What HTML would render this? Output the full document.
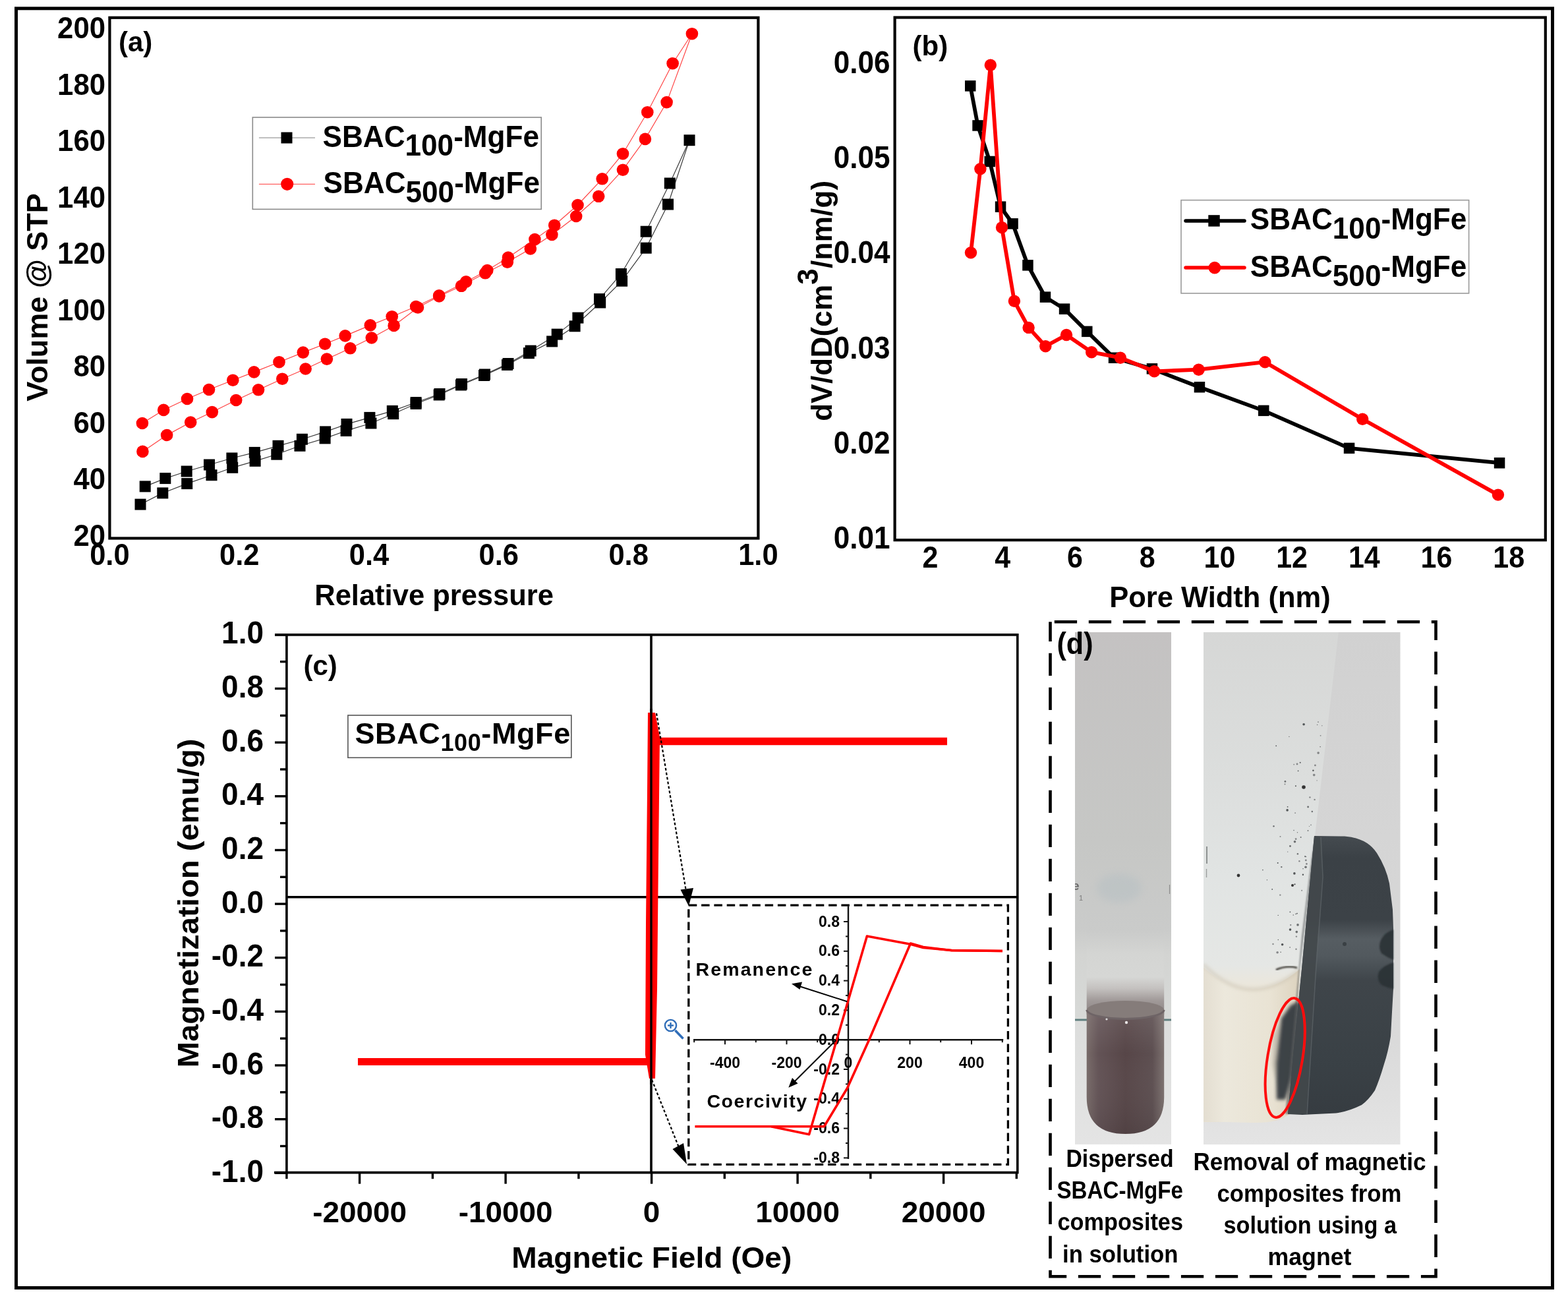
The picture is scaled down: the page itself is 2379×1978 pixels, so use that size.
<!DOCTYPE html>
<html><head><meta charset="utf-8"><title>Figure</title><style>
html,body{margin:0;padding:0;background:#fff;overflow:hidden;width:2379px;height:1978px;}
svg{display:block;}
text{font-family:"Liberation Sans", Arial, Helvetica, sans-serif;font-weight:bold;fill:#000;}
.cap{font-family:"Liberation Sans", "DejaVu Sans", sans-serif;}
</style></head><body>
<svg width="2379" height="1978" viewBox="0 0 2379 1978">
<rect x="0" y="0" width="2379" height="1978" fill="#fff"/>
<rect x="24.5" y="12.8" width="2331" height="1940.7" fill="none" stroke="#000" stroke-width="5"/>
<g id="panel-a">
<rect x="166.4" y="26.8" width="984" height="789.7" fill="none" stroke="#000" stroke-width="4.2"/>
<text transform="translate(160,827.8) scale(0.944,1)" x="0" y="0" font-size="46.3" text-anchor="end">20</text>
<text transform="translate(160,742.3) scale(0.944,1)" x="0" y="0" font-size="46.3" text-anchor="end">40</text>
<text transform="translate(160,656.8) scale(0.944,1)" x="0" y="0" font-size="46.3" text-anchor="end">60</text>
<text transform="translate(160,571.3) scale(0.944,1)" x="0" y="0" font-size="46.3" text-anchor="end">80</text>
<text transform="translate(160,485.8) scale(0.944,1)" x="0" y="0" font-size="46.3" text-anchor="end">100</text>
<text transform="translate(160,400.3) scale(0.944,1)" x="0" y="0" font-size="46.3" text-anchor="end">120</text>
<text transform="translate(160,314.8) scale(0.944,1)" x="0" y="0" font-size="46.3" text-anchor="end">140</text>
<text transform="translate(160,229.3) scale(0.944,1)" x="0" y="0" font-size="46.3" text-anchor="end">160</text>
<text transform="translate(160,143.8) scale(0.944,1)" x="0" y="0" font-size="46.3" text-anchor="end">180</text>
<text transform="translate(160,58.3) scale(0.944,1)" x="0" y="0" font-size="46.3" text-anchor="end">200</text>
<text transform="translate(166.4,857.2) scale(0.937,1)" x="0" y="0" font-size="46.4" text-anchor="middle">0.0</text>
<text transform="translate(363.2,857.2) scale(0.937,1)" x="0" y="0" font-size="46.4" text-anchor="middle">0.2</text>
<text transform="translate(560,857.2) scale(0.937,1)" x="0" y="0" font-size="46.4" text-anchor="middle">0.4</text>
<text transform="translate(756.8,857.2) scale(0.937,1)" x="0" y="0" font-size="46.4" text-anchor="middle">0.6</text>
<text transform="translate(953.6,857.2) scale(0.937,1)" x="0" y="0" font-size="46.4" text-anchor="middle">0.8</text>
<text transform="translate(1150.4,857.2) scale(0.937,1)" x="0" y="0" font-size="46.4" text-anchor="middle">1.0</text>
<text x="658.6" y="918.2" font-size="43.5" text-anchor="middle">Relative pressure</text>
<text transform="translate(72.4,451) rotate(-90)" x="0" y="0" font-size="45" text-anchor="middle">Volume @ STP</text>
<text x="180" y="78" font-size="42">(a)</text>
<polyline points="216.4,684.9 253.1,660 289.2,640.5 321.8,625.1 358.2,607 392,591.3 428.3,574.7 463.6,559.5 495.9,544.6 531.4,528.3 563.8,512.5 597.6,493.9 634,466.5 666.2,449.5 700,433.8 736.2,414.3 769.8,397.6 804.8,377.4 837.4,356 874.2,328 908.2,297.8 945,257.7 978.9,210.9 1011.6,155.1 1049.9,51.2" fill="none" stroke="#ff4040" stroke-width="1.15"/>
<polyline points="1049.9,51.2 1020.6,96.2 982.3,170.2 945,233.2 913.7,271.3 876.5,311 841.2,341.7 811.4,363.1 771,390.5 739.3,410 707.1,427.4 666.2,448.3 631.1,465 594.7,480.2 561.8,493.4 523.7,509.4 493.1,521.7 459.8,534.6 423.5,549.2 385.4,564.4 353.3,576.7 317,591 284,605 248.2,621.9 215.9,642" fill="none" stroke="#ff4040" stroke-width="1.15"/>
<polyline points="213,765.1 246.8,747.9 283.7,733.6 321,720.7 352.7,709.3 387.1,699.3 419.8,689.2 455,676.3 493.1,664.9 525.1,653.4 562.9,642 596.7,627.7 631.1,612.5 666.2,599 699.5,584 734.5,569.5 769.5,553.5 802.4,535.7 837.6,517.9 872.1,494.8 910.7,459 943.6,426.2 980.2,376.2 1013.5,310 1046,212.7" fill="none" stroke="#3a3a3a" stroke-width="1.2"/>
<polyline points="1046,212.7 1016.3,278 980.2,351.2 942.4,415.5 909.5,453.6 876.9,482.1 845.2,507.1 805.2,532.1 771,551.5 735.5,568 700.5,582.5 667,597.5 631.1,610.5 595.3,623.4 560.9,633.4 526,643.4 493.6,654.9 458.4,666.3 422,676.3 386.3,686.4 351.9,695 317.5,705 283.2,715 250.8,725.6 220.2,737.9" fill="none" stroke="#3a3a3a" stroke-width="1.2"/>
<circle cx="216.4" cy="684.9" r="9.3" fill="#ff0000"/>
<circle cx="253.1" cy="660" r="9.3" fill="#ff0000"/>
<circle cx="289.2" cy="640.5" r="9.3" fill="#ff0000"/>
<circle cx="321.8" cy="625.1" r="9.3" fill="#ff0000"/>
<circle cx="358.2" cy="607" r="9.3" fill="#ff0000"/>
<circle cx="392" cy="591.3" r="9.3" fill="#ff0000"/>
<circle cx="428.3" cy="574.7" r="9.3" fill="#ff0000"/>
<circle cx="463.6" cy="559.5" r="9.3" fill="#ff0000"/>
<circle cx="495.9" cy="544.6" r="9.3" fill="#ff0000"/>
<circle cx="531.4" cy="528.3" r="9.3" fill="#ff0000"/>
<circle cx="563.8" cy="512.5" r="9.3" fill="#ff0000"/>
<circle cx="597.6" cy="493.9" r="9.3" fill="#ff0000"/>
<circle cx="634" cy="466.5" r="9.3" fill="#ff0000"/>
<circle cx="666.2" cy="449.5" r="9.3" fill="#ff0000"/>
<circle cx="700" cy="433.8" r="9.3" fill="#ff0000"/>
<circle cx="736.2" cy="414.3" r="9.3" fill="#ff0000"/>
<circle cx="769.8" cy="397.6" r="9.3" fill="#ff0000"/>
<circle cx="804.8" cy="377.4" r="9.3" fill="#ff0000"/>
<circle cx="837.4" cy="356" r="9.3" fill="#ff0000"/>
<circle cx="874.2" cy="328" r="9.3" fill="#ff0000"/>
<circle cx="908.2" cy="297.8" r="9.3" fill="#ff0000"/>
<circle cx="945" cy="257.7" r="9.3" fill="#ff0000"/>
<circle cx="978.9" cy="210.9" r="9.3" fill="#ff0000"/>
<circle cx="1011.6" cy="155.1" r="9.3" fill="#ff0000"/>
<circle cx="1049.9" cy="51.2" r="9.3" fill="#ff0000"/>
<circle cx="1020.6" cy="96.2" r="9.3" fill="#ff0000"/>
<circle cx="982.3" cy="170.2" r="9.3" fill="#ff0000"/>
<circle cx="945" cy="233.2" r="9.3" fill="#ff0000"/>
<circle cx="913.7" cy="271.3" r="9.3" fill="#ff0000"/>
<circle cx="876.5" cy="311" r="9.3" fill="#ff0000"/>
<circle cx="841.2" cy="341.7" r="9.3" fill="#ff0000"/>
<circle cx="811.4" cy="363.1" r="9.3" fill="#ff0000"/>
<circle cx="771" cy="390.5" r="9.3" fill="#ff0000"/>
<circle cx="739.3" cy="410" r="9.3" fill="#ff0000"/>
<circle cx="707.1" cy="427.4" r="9.3" fill="#ff0000"/>
<circle cx="666.2" cy="448.3" r="9.3" fill="#ff0000"/>
<circle cx="631.1" cy="465" r="9.3" fill="#ff0000"/>
<circle cx="594.7" cy="480.2" r="9.3" fill="#ff0000"/>
<circle cx="561.8" cy="493.4" r="9.3" fill="#ff0000"/>
<circle cx="523.7" cy="509.4" r="9.3" fill="#ff0000"/>
<circle cx="493.1" cy="521.7" r="9.3" fill="#ff0000"/>
<circle cx="459.8" cy="534.6" r="9.3" fill="#ff0000"/>
<circle cx="423.5" cy="549.2" r="9.3" fill="#ff0000"/>
<circle cx="385.4" cy="564.4" r="9.3" fill="#ff0000"/>
<circle cx="353.3" cy="576.7" r="9.3" fill="#ff0000"/>
<circle cx="317" cy="591" r="9.3" fill="#ff0000"/>
<circle cx="284" cy="605" r="9.3" fill="#ff0000"/>
<circle cx="248.2" cy="621.9" r="9.3" fill="#ff0000"/>
<circle cx="215.9" cy="642" r="9.3" fill="#ff0000"/>
<rect x="204.5" y="756.6" width="17" height="17" fill="#000"/>
<rect x="238.3" y="739.4" width="17" height="17" fill="#000"/>
<rect x="275.2" y="725.1" width="17" height="17" fill="#000"/>
<rect x="312.5" y="712.2" width="17" height="17" fill="#000"/>
<rect x="344.2" y="700.8" width="17" height="17" fill="#000"/>
<rect x="378.6" y="690.8" width="17" height="17" fill="#000"/>
<rect x="411.3" y="680.7" width="17" height="17" fill="#000"/>
<rect x="446.5" y="667.8" width="17" height="17" fill="#000"/>
<rect x="484.6" y="656.4" width="17" height="17" fill="#000"/>
<rect x="516.6" y="644.9" width="17" height="17" fill="#000"/>
<rect x="554.4" y="633.5" width="17" height="17" fill="#000"/>
<rect x="588.2" y="619.2" width="17" height="17" fill="#000"/>
<rect x="622.6" y="604" width="17" height="17" fill="#000"/>
<rect x="657.7" y="590.5" width="17" height="17" fill="#000"/>
<rect x="691" y="575.5" width="17" height="17" fill="#000"/>
<rect x="726" y="561" width="17" height="17" fill="#000"/>
<rect x="761" y="545" width="17" height="17" fill="#000"/>
<rect x="793.9" y="527.2" width="17" height="17" fill="#000"/>
<rect x="829.1" y="509.4" width="17" height="17" fill="#000"/>
<rect x="863.6" y="486.3" width="17" height="17" fill="#000"/>
<rect x="902.2" y="450.5" width="17" height="17" fill="#000"/>
<rect x="935.1" y="417.7" width="17" height="17" fill="#000"/>
<rect x="971.7" y="367.7" width="17" height="17" fill="#000"/>
<rect x="1005" y="301.5" width="17" height="17" fill="#000"/>
<rect x="1037.5" y="204.2" width="17" height="17" fill="#000"/>
<rect x="1007.8" y="269.5" width="17" height="17" fill="#000"/>
<rect x="971.7" y="342.7" width="17" height="17" fill="#000"/>
<rect x="933.9" y="407" width="17" height="17" fill="#000"/>
<rect x="901" y="445.1" width="17" height="17" fill="#000"/>
<rect x="868.4" y="473.6" width="17" height="17" fill="#000"/>
<rect x="836.7" y="498.6" width="17" height="17" fill="#000"/>
<rect x="796.7" y="523.6" width="17" height="17" fill="#000"/>
<rect x="762.5" y="543" width="17" height="17" fill="#000"/>
<rect x="727" y="559.5" width="17" height="17" fill="#000"/>
<rect x="692" y="574" width="17" height="17" fill="#000"/>
<rect x="658.5" y="589" width="17" height="17" fill="#000"/>
<rect x="622.6" y="602" width="17" height="17" fill="#000"/>
<rect x="586.8" y="614.9" width="17" height="17" fill="#000"/>
<rect x="552.4" y="624.9" width="17" height="17" fill="#000"/>
<rect x="517.5" y="634.9" width="17" height="17" fill="#000"/>
<rect x="485.1" y="646.4" width="17" height="17" fill="#000"/>
<rect x="449.9" y="657.8" width="17" height="17" fill="#000"/>
<rect x="413.5" y="667.8" width="17" height="17" fill="#000"/>
<rect x="377.8" y="677.9" width="17" height="17" fill="#000"/>
<rect x="343.4" y="686.5" width="17" height="17" fill="#000"/>
<rect x="309" y="696.5" width="17" height="17" fill="#000"/>
<rect x="274.7" y="706.5" width="17" height="17" fill="#000"/>
<rect x="242.3" y="717.1" width="17" height="17" fill="#000"/>
<rect x="211.7" y="729.4" width="17" height="17" fill="#000"/>
<rect x="383.3" y="178" width="437.9" height="139.4" fill="none" stroke="#8a8a8a" stroke-width="1.6"/>
<line x1="392.9" y1="209" x2="478" y2="209" stroke="#aaa" stroke-width="1.3"/>
<rect x="426.5" y="200.5" width="17" height="17" fill="#000"/>
<line x1="392.9" y1="279.3" x2="478" y2="279.3" stroke="#ff6060" stroke-width="1.3"/>
<circle cx="435.7" cy="279.3" r="9.6" fill="#ff0000"/>
<text transform="translate(489.5,222.6) scale(0.939,1)" x="0" y="0" font-size="47">SBAC<tspan dy="13.7">100</tspan><tspan dy="-13.7">-MgFe</tspan></text>
<text transform="translate(490.5,292.9) scale(0.939,1)" x="0" y="0" font-size="47">SBAC<tspan dy="14">500</tspan><tspan dy="-14">-MgFe</tspan></text>
</g>
<g id="panel-b">
<rect x="1357.6" y="26.5" width="987.2" height="792.7" fill="none" stroke="#000" stroke-width="4.2"/>
<text transform="translate(1350.5,831.7) scale(0.914,1)" x="0" y="0" font-size="48.2" text-anchor="end">0.01</text>
<text transform="translate(1350.5,687.6) scale(0.914,1)" x="0" y="0" font-size="48.2" text-anchor="end">0.02</text>
<text transform="translate(1350.5,543.5) scale(0.914,1)" x="0" y="0" font-size="48.2" text-anchor="end">0.03</text>
<text transform="translate(1350.5,399.4) scale(0.914,1)" x="0" y="0" font-size="48.2" text-anchor="end">0.04</text>
<text transform="translate(1350.5,255.3) scale(0.914,1)" x="0" y="0" font-size="48.2" text-anchor="end">0.05</text>
<text transform="translate(1350.5,111.2) scale(0.914,1)" x="0" y="0" font-size="48.2" text-anchor="end">0.06</text>
<text transform="translate(1411.5,860.8) scale(0.914,1)" x="0" y="0" font-size="47" text-anchor="middle">2</text>
<text transform="translate(1521.2,860.8) scale(0.914,1)" x="0" y="0" font-size="47" text-anchor="middle">4</text>
<text transform="translate(1631,860.8) scale(0.914,1)" x="0" y="0" font-size="47" text-anchor="middle">6</text>
<text transform="translate(1740.7,860.8) scale(0.914,1)" x="0" y="0" font-size="47" text-anchor="middle">8</text>
<text transform="translate(1850.4,860.8) scale(0.914,1)" x="0" y="0" font-size="47" text-anchor="middle">10</text>
<text transform="translate(1960.1,860.8) scale(0.914,1)" x="0" y="0" font-size="47" text-anchor="middle">12</text>
<text transform="translate(2069.8,860.8) scale(0.914,1)" x="0" y="0" font-size="47" text-anchor="middle">14</text>
<text transform="translate(2179.4,860.8) scale(0.914,1)" x="0" y="0" font-size="47" text-anchor="middle">16</text>
<text transform="translate(2289.2,860.8) scale(0.914,1)" x="0" y="0" font-size="47" text-anchor="middle">18</text>
<text x="1851" y="921.3" font-size="43.5" text-anchor="middle">Pore Width (nm)</text>
<text transform="translate(1261.7,456.3) rotate(-90)" x="0" y="0" font-size="44" text-anchor="middle" textLength="365" lengthAdjust="spacing">dV/dD(cm<tspan dy="-21">3</tspan><tspan dy="21">/nm/g)</tspan></text>
<text x="1384.5" y="84" font-size="42">(b)</text>
<polyline points="1472.2,130.3 1483.6,190.5 1501.7,244.9 1518,313.6 1536.6,339.4 1559.5,402.4 1585.9,450.6 1615,468.6 1649.3,502.9 1690,542.7 1747.9,559.4 1819.9,587.3 1917.2,622.9 2047,679.9 2275,702.2" fill="none" stroke="#000" stroke-width="5.8" stroke-linejoin="round"/>
<rect x="1464" y="122.1" width="16.5" height="16.5" fill="#000"/>
<rect x="1475.3" y="182.2" width="16.5" height="16.5" fill="#000"/>
<rect x="1493.5" y="236.7" width="16.5" height="16.5" fill="#000"/>
<rect x="1509.8" y="305.4" width="16.5" height="16.5" fill="#000"/>
<rect x="1528.3" y="331.1" width="16.5" height="16.5" fill="#000"/>
<rect x="1551.2" y="394.1" width="16.5" height="16.5" fill="#000"/>
<rect x="1577.7" y="442.4" width="16.5" height="16.5" fill="#000"/>
<rect x="1606.8" y="460.4" width="16.5" height="16.5" fill="#000"/>
<rect x="1641" y="494.6" width="16.5" height="16.5" fill="#000"/>
<rect x="1681.8" y="534.5" width="16.5" height="16.5" fill="#000"/>
<rect x="1739.7" y="551.1" width="16.5" height="16.5" fill="#000"/>
<rect x="1811.7" y="579" width="16.5" height="16.5" fill="#000"/>
<rect x="1909" y="614.6" width="16.5" height="16.5" fill="#000"/>
<rect x="2038.8" y="671.6" width="16.5" height="16.5" fill="#000"/>
<rect x="2266.8" y="694" width="16.5" height="16.5" fill="#000"/>
<polyline points="1473,383.2 1487.4,256.3 1502.8,98.8 1520,345.1 1538.9,456.8 1560.6,496.9 1586.3,525.2 1618,508 1656.2,534.2 1699.9,542.7 1751.3,563.3 1818.6,560.7 1919.3,549.2 2067.2,635.7 2272.9,750.6" fill="none" stroke="#ff0000" stroke-width="5.8" stroke-linejoin="round"/>
<circle cx="1473" cy="383.2" r="9.2" fill="#ff0000"/>
<circle cx="1487.4" cy="256.3" r="9.2" fill="#ff0000"/>
<circle cx="1502.8" cy="98.8" r="9.2" fill="#ff0000"/>
<circle cx="1520" cy="345.1" r="9.2" fill="#ff0000"/>
<circle cx="1538.9" cy="456.8" r="9.2" fill="#ff0000"/>
<circle cx="1560.6" cy="496.9" r="9.2" fill="#ff0000"/>
<circle cx="1586.3" cy="525.2" r="9.2" fill="#ff0000"/>
<circle cx="1618" cy="508" r="9.2" fill="#ff0000"/>
<circle cx="1656.2" cy="534.2" r="9.2" fill="#ff0000"/>
<circle cx="1699.9" cy="542.7" r="9.2" fill="#ff0000"/>
<circle cx="1751.3" cy="563.3" r="9.2" fill="#ff0000"/>
<circle cx="1818.6" cy="560.7" r="9.2" fill="#ff0000"/>
<circle cx="1919.3" cy="549.2" r="9.2" fill="#ff0000"/>
<circle cx="2067.2" cy="635.7" r="9.2" fill="#ff0000"/>
<circle cx="2272.9" cy="750.6" r="9.2" fill="#ff0000"/>
<rect x="1792" y="303.6" width="436.6" height="141.3" fill="none" stroke="#999" stroke-width="1.6"/>
<line x1="1799" y1="334.9" x2="1888" y2="334.9" stroke="#000" stroke-width="5.5" stroke-linecap="round"/>
<rect x="1833.3" y="326.2" width="17.4" height="17.4" fill="#000"/>
<line x1="1799" y1="406.1" x2="1888" y2="406.1" stroke="#ff0000" stroke-width="5.5" stroke-linecap="round"/>
<circle cx="1842.9" cy="406.1" r="9.4" fill="#ff0000"/>
<text transform="translate(1896.8,348) scale(0.939,1)" x="0" y="0" font-size="47">SBAC<tspan dy="14.3">100</tspan><tspan dy="-14.3">-MgFe</tspan></text>
<text transform="translate(1896.8,419.9) scale(0.939,1)" x="0" y="0" font-size="47">SBAC<tspan dy="14.5">500</tspan><tspan dy="-14.5">-MgFe</tspan></text>
</g>
<g id="panel-c">
<path d="M417,962.9 H1543.8 V1778.6 H416" fill="none" stroke="#000" stroke-width="3.6"/>
<line x1="434.9" y1="961.1" x2="434.9" y2="1780.4" stroke="#000" stroke-width="3.6"/>
<line x1="417" y1="1779.3" x2="434.9" y2="1779.3" stroke="#000" stroke-width="3.4"/>
<line x1="425" y1="1738.5" x2="434.9" y2="1738.5" stroke="#000" stroke-width="3.4"/>
<line x1="417" y1="1697.7" x2="434.9" y2="1697.7" stroke="#000" stroke-width="3.4"/>
<line x1="425" y1="1656.8" x2="434.9" y2="1656.8" stroke="#000" stroke-width="3.4"/>
<line x1="417" y1="1616" x2="434.9" y2="1616" stroke="#000" stroke-width="3.4"/>
<line x1="425" y1="1575.2" x2="434.9" y2="1575.2" stroke="#000" stroke-width="3.4"/>
<line x1="417" y1="1534.4" x2="434.9" y2="1534.4" stroke="#000" stroke-width="3.4"/>
<line x1="425" y1="1493.6" x2="434.9" y2="1493.6" stroke="#000" stroke-width="3.4"/>
<line x1="417" y1="1452.7" x2="434.9" y2="1452.7" stroke="#000" stroke-width="3.4"/>
<line x1="425" y1="1411.9" x2="434.9" y2="1411.9" stroke="#000" stroke-width="3.4"/>
<line x1="417" y1="1371.1" x2="434.9" y2="1371.1" stroke="#000" stroke-width="3.4"/>
<line x1="425" y1="1330.3" x2="434.9" y2="1330.3" stroke="#000" stroke-width="3.4"/>
<line x1="417" y1="1289.5" x2="434.9" y2="1289.5" stroke="#000" stroke-width="3.4"/>
<line x1="425" y1="1248.6" x2="434.9" y2="1248.6" stroke="#000" stroke-width="3.4"/>
<line x1="417" y1="1207.8" x2="434.9" y2="1207.8" stroke="#000" stroke-width="3.4"/>
<line x1="425" y1="1167" x2="434.9" y2="1167" stroke="#000" stroke-width="3.4"/>
<line x1="417" y1="1126.2" x2="434.9" y2="1126.2" stroke="#000" stroke-width="3.4"/>
<line x1="425" y1="1085.4" x2="434.9" y2="1085.4" stroke="#000" stroke-width="3.4"/>
<line x1="417" y1="1044.5" x2="434.9" y2="1044.5" stroke="#000" stroke-width="3.4"/>
<line x1="425" y1="1003.7" x2="434.9" y2="1003.7" stroke="#000" stroke-width="3.4"/>
<line x1="417" y1="962.9" x2="434.9" y2="962.9" stroke="#000" stroke-width="3.4"/>
<line x1="434.9" y1="1778.6" x2="434.9" y2="1788.2" stroke="#000" stroke-width="3.4"/>
<line x1="545.6" y1="1778.6" x2="545.6" y2="1795.7" stroke="#000" stroke-width="3.4"/>
<line x1="656.4" y1="1778.6" x2="656.4" y2="1788.2" stroke="#000" stroke-width="3.4"/>
<line x1="767.1" y1="1778.6" x2="767.1" y2="1795.7" stroke="#000" stroke-width="3.4"/>
<line x1="877.9" y1="1778.6" x2="877.9" y2="1788.2" stroke="#000" stroke-width="3.4"/>
<line x1="988.6" y1="1778.6" x2="988.6" y2="1795.7" stroke="#000" stroke-width="3.4"/>
<line x1="1099.3" y1="1778.6" x2="1099.3" y2="1788.2" stroke="#000" stroke-width="3.4"/>
<line x1="1210.1" y1="1778.6" x2="1210.1" y2="1795.7" stroke="#000" stroke-width="3.4"/>
<line x1="1320.8" y1="1778.6" x2="1320.8" y2="1788.2" stroke="#000" stroke-width="3.4"/>
<line x1="1431.6" y1="1778.6" x2="1431.6" y2="1795.7" stroke="#000" stroke-width="3.4"/>
<line x1="1542.3" y1="1778.6" x2="1542.3" y2="1788.2" stroke="#000" stroke-width="3.4"/>
<text transform="translate(400,1792.8) scale(0.950,1)" x="0" y="0" font-size="48.4" text-anchor="end">-1.0</text>
<text transform="translate(400,1711.2) scale(0.950,1)" x="0" y="0" font-size="48.4" text-anchor="end">-0.8</text>
<text transform="translate(400,1629.5) scale(0.950,1)" x="0" y="0" font-size="48.4" text-anchor="end">-0.6</text>
<text transform="translate(400,1547.9) scale(0.950,1)" x="0" y="0" font-size="48.4" text-anchor="end">-0.4</text>
<text transform="translate(400,1466.2) scale(0.950,1)" x="0" y="0" font-size="48.4" text-anchor="end">-0.2</text>
<text transform="translate(400,1384.6) scale(0.950,1)" x="0" y="0" font-size="48.4" text-anchor="end">0.0</text>
<text transform="translate(400,1303) scale(0.950,1)" x="0" y="0" font-size="48.4" text-anchor="end">0.2</text>
<text transform="translate(400,1221.3) scale(0.950,1)" x="0" y="0" font-size="48.4" text-anchor="end">0.4</text>
<text transform="translate(400,1139.7) scale(0.950,1)" x="0" y="0" font-size="48.4" text-anchor="end">0.6</text>
<text transform="translate(400,1058) scale(0.950,1)" x="0" y="0" font-size="48.4" text-anchor="end">0.8</text>
<text transform="translate(400,976.4) scale(0.950,1)" x="0" y="0" font-size="48.4" text-anchor="end">1.0</text>
<text transform="translate(545.6,1854.2) scale(1.020,1)" x="0" y="0" font-size="45" text-anchor="middle">-20000</text>
<text transform="translate(767.1,1854.2) scale(1.020,1)" x="0" y="0" font-size="45" text-anchor="middle">-10000</text>
<text transform="translate(988.6,1854.2) scale(1.020,1)" x="0" y="0" font-size="45" text-anchor="middle">0</text>
<text transform="translate(1210.1,1854.2) scale(1.020,1)" x="0" y="0" font-size="45" text-anchor="middle">10000</text>
<text transform="translate(1431.6,1854.2) scale(1.020,1)" x="0" y="0" font-size="45" text-anchor="middle">20000</text>
<text x="988.8" y="1922.8" font-size="45" text-anchor="middle" textLength="425" lengthAdjust="spacingAndGlyphs">Magnetic Field (Oe)</text>
<text transform="translate(300.8,1370) rotate(-90)" x="0" y="0" font-size="45" text-anchor="middle" textLength="499" lengthAdjust="spacingAndGlyphs">Magnetization (emu/g)</text>
<text x="460.5" y="1024" font-size="42">(c)</text>
<line x1="434.9" y1="1360.8" x2="1543.8" y2="1360.8" stroke="#000" stroke-width="3.6"/>
<line x1="988" y1="962.9" x2="988" y2="1778.6" stroke="#000" stroke-width="3.6"/>
<line x1="1000" y1="1124.5" x2="1437" y2="1124.5" stroke="#ff0000" stroke-width="11.5"/>
<line x1="543" y1="1610.6" x2="985" y2="1610.6" stroke="#ff0000" stroke-width="11"/>
<polygon points="983,1081 994,1081 1001,1118 999,1300 997,1500 994,1636 985,1636 979,1600 980,1400 982,1200" fill="#ff0000"/>
<line x1="988" y1="1075" x2="988" y2="1645" stroke="#000" stroke-width="3.4"/>
<line x1="996" y1="1082" x2="1041" y2="1352" stroke="#000" stroke-width="2.2" stroke-dasharray="4 3"/>
<polygon points="1045,1374.5 1032.5,1349.5 1052,1347" fill="#000"/>
<line x1="989" y1="1638" x2="1031" y2="1743" stroke="#000" stroke-width="2.2" stroke-dasharray="4 3"/>
<polygon points="1042,1766 1020.5,1743 1037,1734" fill="#000"/>
<g stroke="#2f6db8" fill="none"><circle cx="1017.5" cy="1555.5" r="8.6" stroke-width="2.4"/><line x1="1013" y1="1555.5" x2="1022" y2="1555.5" stroke-width="2.4"/><line x1="1017.5" y1="1551" x2="1017.5" y2="1560" stroke-width="2.4"/><line x1="1024.5" y1="1563" x2="1036.5" y2="1575.5" stroke-width="3.6"/></g>
<rect x="527.9" y="1085" width="338.9" height="64.3" fill="#fff" stroke="#555" stroke-width="1.6"/>
<text x="538.5" y="1128" font-size="45" letter-spacing="0.6">SBAC<tspan font-size="36" dy="11">100</tspan><tspan dy="-11">-MgFe</tspan></text>
<rect x="1044.8" y="1373.2" width="484.6" height="393.2" fill="#fff" stroke="#000" stroke-width="3.3" stroke-dasharray="12.5 6.8"/>
<line x1="1287" y1="1374.4" x2="1287" y2="1758" stroke="#111" stroke-width="2.4"/>
<line x1="1052" y1="1577.2" x2="1522.2" y2="1577.2" stroke="#111" stroke-width="2.4"/>
<line x1="1280" y1="1756.4" x2="1287" y2="1756.4" stroke="#111" stroke-width="2"/>
<line x1="1283" y1="1734" x2="1287" y2="1734" stroke="#111" stroke-width="2"/>
<line x1="1280" y1="1711.6" x2="1287" y2="1711.6" stroke="#111" stroke-width="2"/>
<line x1="1283" y1="1689.2" x2="1287" y2="1689.2" stroke="#111" stroke-width="2"/>
<line x1="1280" y1="1666.8" x2="1287" y2="1666.8" stroke="#111" stroke-width="2"/>
<line x1="1283" y1="1644.4" x2="1287" y2="1644.4" stroke="#111" stroke-width="2"/>
<line x1="1280" y1="1622" x2="1287" y2="1622" stroke="#111" stroke-width="2"/>
<line x1="1283" y1="1599.6" x2="1287" y2="1599.6" stroke="#111" stroke-width="2"/>
<line x1="1280" y1="1577.2" x2="1287" y2="1577.2" stroke="#111" stroke-width="2"/>
<line x1="1283" y1="1554.8" x2="1287" y2="1554.8" stroke="#111" stroke-width="2"/>
<line x1="1280" y1="1532.4" x2="1287" y2="1532.4" stroke="#111" stroke-width="2"/>
<line x1="1283" y1="1510" x2="1287" y2="1510" stroke="#111" stroke-width="2"/>
<line x1="1280" y1="1487.6" x2="1287" y2="1487.6" stroke="#111" stroke-width="2"/>
<line x1="1283" y1="1465.2" x2="1287" y2="1465.2" stroke="#111" stroke-width="2"/>
<line x1="1280" y1="1442.8" x2="1287" y2="1442.8" stroke="#111" stroke-width="2"/>
<line x1="1283" y1="1420.4" x2="1287" y2="1420.4" stroke="#111" stroke-width="2"/>
<line x1="1280" y1="1398" x2="1287" y2="1398" stroke="#111" stroke-width="2"/>
<line x1="1053.2" y1="1577.2" x2="1053.2" y2="1581.2" stroke="#111" stroke-width="2"/>
<line x1="1100" y1="1577.2" x2="1100" y2="1584.2" stroke="#111" stroke-width="2"/>
<line x1="1146.8" y1="1577.2" x2="1146.8" y2="1581.2" stroke="#111" stroke-width="2"/>
<line x1="1193.5" y1="1577.2" x2="1193.5" y2="1584.2" stroke="#111" stroke-width="2"/>
<line x1="1240.2" y1="1577.2" x2="1240.2" y2="1581.2" stroke="#111" stroke-width="2"/>
<line x1="1287" y1="1577.2" x2="1287" y2="1584.2" stroke="#111" stroke-width="2"/>
<line x1="1333.8" y1="1577.2" x2="1333.8" y2="1581.2" stroke="#111" stroke-width="2"/>
<line x1="1380.5" y1="1577.2" x2="1380.5" y2="1584.2" stroke="#111" stroke-width="2"/>
<line x1="1427.2" y1="1577.2" x2="1427.2" y2="1581.2" stroke="#111" stroke-width="2"/>
<line x1="1474" y1="1577.2" x2="1474" y2="1584.2" stroke="#111" stroke-width="2"/>
<line x1="1520.8" y1="1577.2" x2="1520.8" y2="1581.2" stroke="#111" stroke-width="2"/>
<text x="1274" y="1764" font-size="23" text-anchor="end">-0.8</text>
<text x="1274" y="1719.2" font-size="23" text-anchor="end">-0.6</text>
<text x="1274" y="1674.4" font-size="23" text-anchor="end">-0.4</text>
<text x="1274" y="1629.6" font-size="23" text-anchor="end">-0.2</text>
<text x="1274" y="1584.8" font-size="23" text-anchor="end">0.0</text>
<text x="1274" y="1540" font-size="23" text-anchor="end">0.2</text>
<text x="1274" y="1495.2" font-size="23" text-anchor="end">0.4</text>
<text x="1274" y="1450.4" font-size="23" text-anchor="end">0.6</text>
<text x="1274" y="1405.6" font-size="23" text-anchor="end">0.8</text>
<text x="1100" y="1619.6" font-size="23" text-anchor="middle">-400</text>
<text x="1193.5" y="1619.6" font-size="23" text-anchor="middle">-200</text>
<text x="1287" y="1619.6" font-size="23" text-anchor="middle">0</text>
<text x="1380.5" y="1619.6" font-size="23" text-anchor="middle">200</text>
<text x="1474" y="1619.6" font-size="23" text-anchor="middle">400</text>
<polyline points="1054.4,1708.7 1169.9,1708.7 1227.6,1720.8 1315.4,1420.1 1381.5,1432.2 1400.7,1437.5 1444,1441.5 1521,1442.5" fill="none" stroke="#ff0000" stroke-width="3.6" stroke-linejoin="round"/>
<polyline points="1521,1442.5 1444,1441.8 1400.7,1436.5 1381.5,1431 1319,1576.5 1285.3,1651 1250.4,1708.7 1169.9,1708.7" fill="none" stroke="#ff0000" stroke-width="3.6" stroke-linejoin="round"/>
<text x="1055.6" y="1480.3" font-size="28.5" textLength="176.8" lengthAdjust="spacing">Remanence</text>
<text x="1072.5" y="1679.9" font-size="28.5" textLength="151.5" lengthAdjust="spacing">Coercivity</text>
<line x1="1285.3" y1="1519.2" x2="1212" y2="1495.8" stroke="#000" stroke-width="2"/>
<polygon points="1201,1492.3 1217,1489.5 1213.5,1501" fill="#000"/>
<line x1="1268.5" y1="1577.7" x2="1205" y2="1641" stroke="#000" stroke-width="2"/>
<polygon points="1196.3,1649.8 1202,1635 1210.5,1643.5" fill="#000"/>
</g>
<g id="panel-d">
<path d="M1593.5,943.3 H2178.5 V1936.3 H1593.5 Z" fill="none" stroke="#000" stroke-width="4.6" stroke-dasharray="34.3 17.7" stroke-dashoffset="45.7" stroke-linejoin="miter"/>
<defs>
<clipPath id="cp1"><rect x="1631" y="958.9" width="146" height="777"/></clipPath>
<clipPath id="cp2"><rect x="1826" y="958.9" width="298.7" height="777.3"/></clipPath>
<linearGradient id="p1bg" gradientUnits="userSpaceOnUse" x1="0" y1="958.9" x2="0" y2="1736"><stop offset="0" stop-color="#c4c2c2"/><stop offset="0.41" stop-color="#c6c7c5"/><stop offset="0.58" stop-color="#cacbca"/><stop offset="0.63" stop-color="#d3d4d2"/><stop offset="0.75" stop-color="#d7d9d7"/><stop offset="0.76" stop-color="#dcdddc"/><stop offset="1" stop-color="#e4e4e4"/></linearGradient>
<linearGradient id="p1tube" gradientUnits="userSpaceOnUse" x1="0" y1="958.9" x2="0" y2="1540"><stop offset="0" stop-color="#c4c2c2"/><stop offset="0.55" stop-color="#c6c7c5"/><stop offset="0.78" stop-color="#cacbca"/><stop offset="0.84" stop-color="#d4d5d3"/><stop offset="0.9" stop-color="#d6d7d5"/><stop offset="0.93" stop-color="#c4c1bf"/><stop offset="0.962" stop-color="#a09998"/><stop offset="1" stop-color="#8c8484"/></linearGradient>
<linearGradient id="p1liq" x1="0" y1="0" x2="1" y2="0"><stop offset="0" stop-color="#786b69"/><stop offset="0.15" stop-color="#635356"/><stop offset="0.5" stop-color="#574648"/><stop offset="0.85" stop-color="#5d4f51"/><stop offset="1" stop-color="#7c716f"/></linearGradient>
<linearGradient id="p1liqv" x1="0" y1="0" x2="0" y2="1"><stop offset="0" stop-color="#fff" stop-opacity="0.10"/><stop offset="0.35" stop-color="#fff" stop-opacity="0"/><stop offset="1" stop-color="#000" stop-opacity="0.08"/></linearGradient>
<linearGradient id="p2bg" x1="0" y1="0" x2="0" y2="1"><stop offset="0" stop-color="#d1d1d1"/><stop offset="0.5" stop-color="#d6d6d6"/><stop offset="0.8" stop-color="#dadada"/><stop offset="1" stop-color="#e4e4e4"/></linearGradient>
<linearGradient id="p2tube" gradientUnits="userSpaceOnUse" x1="0" y1="958.9" x2="0" y2="1702"><stop offset="0" stop-color="#d6d7d6"/><stop offset="0.3" stop-color="#dcdedd"/><stop offset="0.5" stop-color="#e1e4e3"/><stop offset="0.68" stop-color="#e5e7e5"/><stop offset="0.72" stop-color="#ebe7dc"/><stop offset="1" stop-color="#e9e1d0"/></linearGradient>
<linearGradient id="p2cream" x1="0" y1="0" x2="1" y2="0"><stop offset="0" stop-color="#e2dccf"/><stop offset="0.25" stop-color="#ece8dc"/><stop offset="0.7" stop-color="#e9e3d4"/><stop offset="1" stop-color="#ddd3bf"/></linearGradient>
<linearGradient id="mag" gradientUnits="userSpaceOnUse" x1="0" y1="1268" x2="0" y2="1691"><stop offset="0" stop-color="#454b50"/><stop offset="0.08" stop-color="#3b4146"/><stop offset="0.3" stop-color="#3c4247"/><stop offset="0.37" stop-color="#565d62"/><stop offset="0.43" stop-color="#52595e"/><stop offset="0.52" stop-color="#3f454a"/><stop offset="0.8" stop-color="#3a4146"/><stop offset="1" stop-color="#363c41"/></linearGradient>
<filter id="bl1" x="-20%" y="-20%" width="140%" height="140%"><feGaussianBlur stdDeviation="1.2"/></filter>
<filter id="bl2" x="-30%" y="-30%" width="160%" height="160%"><feGaussianBlur stdDeviation="2.5"/></filter>
<filter id="bl4" x="-50%" y="-50%" width="200%" height="200%"><feGaussianBlur stdDeviation="6"/></filter>
</defs>
<g clip-path="url(#cp1)">
<rect x="1631" y="958.9" width="146" height="777" fill="url(#p1bg)"/>
<rect x="1648.7" y="958.9" width="117.5" height="580" fill="url(#p1tube)"/>
<ellipse cx="1698" cy="1347" rx="34" ry="22" fill="#b3bec2" opacity="0.45" filter="url(#bl4)"/>
<text x="1627" y="1350" font-size="19" fill="#6a6a6a" style="fill:#6a6a6a">e</text>
<text x="1637" y="1366" font-size="11" font-weight="normal" fill="#7a7a7a" style="fill:#7a7a7a;font-weight:normal">1</text>
<line x1="1774.5" y1="1342" x2="1774.5" y2="1356" stroke="#8a8a8a" stroke-width="1.2"/>
<line x1="1631" y1="1547" x2="1649" y2="1547" stroke="#5f7e7e" stroke-width="3"/>
<line x1="1766" y1="1547" x2="1777" y2="1547" stroke="#5f7e7e" stroke-width="3"/>
<path d="M1648.7,1532 L1766.2,1532 L1766.2,1664 Q1766.2,1720 1707.5,1720 Q1648.7,1720 1648.7,1664 Z" fill="url(#p1liq)"/>
<path d="M1648.7,1532 L1766.2,1532 L1766.2,1664 Q1766.2,1720 1707.5,1720 Q1648.7,1720 1648.7,1664 Z" fill="url(#p1liqv)"/>
<ellipse cx="1707.5" cy="1532" rx="58.8" ry="14" fill="#857c7a"/>
<path d="M1648.7,1532 A58.8,14 0 0 0 1766.2,1532" fill="none" stroke="#6e6466" stroke-width="3"/>
<circle cx="1709" cy="1551" r="2.2" fill="#e8e4e4"/><circle cx="1679" cy="1546" r="1.6" fill="#ddd"/>
</g>
<g clip-path="url(#cp2)">
<rect x="1826" y="958.9" width="298.7" height="777.3" fill="url(#p2bg)"/>
<path d="M1820,958 L2031,958 L1995,1268 L1953,1682 Q1950,1702 1900,1702 L1820,1702 Z" fill="url(#p2tube)"/>
<line x1="1831" y1="1284" x2="1831" y2="1310" stroke="#6f7474" stroke-width="1.8" opacity="0.8"/>
<line x1="1830.5" y1="1318" x2="1830.5" y2="1331" stroke="#8a8e8e" stroke-width="1.4" opacity="0.8"/>
<path d="M1820,1462 Q1895,1535 1972,1470 L1956,1690 Q1940,1704 1900,1703 L1820,1701 Z" fill="url(#p2cream)"/>
<path d="M1826,1463 Q1895,1534 1971,1471" fill="none" stroke="#cbc3b2" stroke-width="5" opacity="0.55" filter="url(#bl2)"/>
<path d="M1936,1471 Q1952,1464 1968,1468" fill="none" stroke="#3e3a36" stroke-width="2.5" filter="url(#bl1)"/>
<path d="M1944,1545 L1958,1525 L1972,1518 L1962,1630 L1950,1668 L1937,1668 L1936,1612 Z" fill="#353b3f" opacity="0.95" filter="url(#bl2)"/>
<path d="M1932,1570 L1944,1548 L1940,1605 L1936,1640 L1930,1615 Z" fill="#8a8478" opacity="0.35" filter="url(#bl2)"/>
<path d="M1975,1420 L1990,1300 L1996,1268 L1972,1470 L1956,1690 L1950,1690 Z" fill="#55585a" opacity="0.6" filter="url(#bl1)"/>
<path d="M1994,1268 L2040,1268.5 Q2074,1271 2089,1294 Q2103,1316 2108,1340 L2113,1380 L2114,1408 L2114,1500 L2112,1535 L2110,1572 Q2106,1596 2100,1614 Q2093,1638 2086,1654 Q2076,1669 2066,1676 Q2046,1686 2027,1688.5 L1976,1691 L1954,1690 L1962,1600 L1975,1470 L1991,1300 Z" fill="url(#mag)"/>
<path d="M1994,1268 L2004,1270 L2006,1330 L1995,1480 L1982,1690 L1954,1690 L1962,1600 L1975,1470 L1991,1300 Z" fill="#43484b" opacity="0.9"/>
<path d="M2004,1270 L2007,1330 L1996,1480 L1983,1690" fill="none" stroke="#5b6165" stroke-width="1.6" opacity="0.8"/>
<path d="M2114,1410 Q2102,1414 2096,1424 Q2090,1436 2096,1446 Q2104,1452 2114,1456 Z" fill="#2b3034" opacity="0.9" filter="url(#bl1)"/>
<path d="M2114,1460 Q2100,1464 2092,1474 Q2088,1486 2096,1494 Q2104,1498 2114,1500 Z" fill="#2b3034" opacity="0.9" filter="url(#bl1)"/>
<circle cx="2040" cy="1432" r="3" fill="#33393d" opacity="0.8"/>
<circle cx="1932.5" cy="1253.3" r="1.2" fill="#3a3d40" opacity="0.7"/>
<circle cx="1966.1" cy="1272.7" r="1.4" fill="#3a3d40" opacity="0.55"/>
<circle cx="1963.2" cy="1159.6" r="0.9" fill="#3a3d40" opacity="0.55"/>
<circle cx="1989" cy="1251.3" r="0.9" fill="#3a3d40" opacity="0.55"/>
<circle cx="1957.5" cy="1283.5" r="1.4" fill="#3a3d40" opacity="0.7"/>
<circle cx="1945.6" cy="1432.7" r="1.8" fill="#3a3d40" opacity="0.85"/>
<circle cx="1982.4" cy="1310.4" r="1.4" fill="#3a3d40" opacity="0.55"/>
<circle cx="2003.6" cy="1115.8" r="0.9" fill="#3a3d40" opacity="0.55"/>
<circle cx="1981.3" cy="1304.9" r="1.4" fill="#3a3d40" opacity="0.55"/>
<circle cx="1964.5" cy="1276.7" r="1.8" fill="#3a3d40" opacity="0.7"/>
<circle cx="1973.6" cy="1269.9" r="1" fill="#3a3d40" opacity="0.7"/>
<circle cx="1943.1" cy="1444.2" r="0.7" fill="#3a3d40" opacity="0.85"/>
<circle cx="1998.1" cy="1183.9" r="0.7" fill="#3a3d40" opacity="0.55"/>
<circle cx="1953.7" cy="1292.1" r="0.7" fill="#3a3d40" opacity="0.7"/>
<circle cx="2003.1" cy="1132.7" r="0.7" fill="#3a3d40" opacity="0.85"/>
<circle cx="2000" cy="1095.2" r="0.9" fill="#3a3d40" opacity="0.55"/>
<circle cx="1963" cy="1259.5" r="0.7" fill="#3a3d40" opacity="0.85"/>
<circle cx="1981" cy="1315.3" r="1.8" fill="#3a3d40" opacity="0.7"/>
<circle cx="1994.6" cy="1212.9" r="1.2" fill="#3a3d40" opacity="0.55"/>
<circle cx="2000.1" cy="1142.1" r="1.8" fill="#3a3d40" opacity="0.55"/>
<circle cx="1978.1" cy="1098.8" r="1.8" fill="#3a3d40" opacity="0.85"/>
<circle cx="1995.4" cy="1160.9" r="1.4" fill="#3a3d40" opacity="0.55"/>
<circle cx="1966.5" cy="1439.8" r="1.2" fill="#3a3d40" opacity="0.55"/>
<circle cx="1965.1" cy="1233.2" r="0.9" fill="#3a3d40" opacity="0.55"/>
<circle cx="1949.5" cy="1189.4" r="1" fill="#3a3d40" opacity="0.55"/>
<circle cx="1992.4" cy="1168.7" r="1.2" fill="#3a3d40" opacity="0.85"/>
<circle cx="1915.9" cy="1319.6" r="0.9" fill="#3a3d40" opacity="0.7"/>
<circle cx="1949.9" cy="1185.4" r="1.4" fill="#3a3d40" opacity="0.7"/>
<circle cx="1968" cy="1385.6" r="0.9" fill="#3a3d40" opacity="0.85"/>
<circle cx="1977" cy="1317.8" r="0.7" fill="#3a3d40" opacity="0.85"/>
<circle cx="1984.6" cy="1224" r="1.4" fill="#3a3d40" opacity="0.7"/>
<circle cx="1966.1" cy="1386.3" r="0.9" fill="#3a3d40" opacity="0.7"/>
<circle cx="1968" cy="1159" r="1.4" fill="#3a3d40" opacity="0.55"/>
<circle cx="1930.2" cy="1348.9" r="0.9" fill="#3a3d40" opacity="0.85"/>
<circle cx="1944.3" cy="1315.1" r="1.2" fill="#3a3d40" opacity="0.7"/>
<circle cx="1971.4" cy="1306.2" r="1.2" fill="#3a3d40" opacity="0.55"/>
<circle cx="1936.2" cy="1131.3" r="0.9" fill="#3a3d40" opacity="0.85"/>
<circle cx="1964.2" cy="1341.6" r="1" fill="#3a3d40" opacity="0.7"/>
<circle cx="1957.4" cy="1383.3" r="0.9" fill="#3a3d40" opacity="0.85"/>
<circle cx="1957.1" cy="1437" r="0.9" fill="#3a3d40" opacity="0.55"/>
<circle cx="1968.5" cy="1262.8" r="0.7" fill="#3a3d40" opacity="0.7"/>
<circle cx="1969.6" cy="1169.3" r="0.9" fill="#3a3d40" opacity="0.85"/>
<circle cx="2005.8" cy="1100.8" r="0.7" fill="#3a3d40" opacity="0.55"/>
<circle cx="1972.7" cy="1156.7" r="1" fill="#3a3d40" opacity="0.85"/>
<circle cx="1968.9" cy="1295.3" r="1.2" fill="#3a3d40" opacity="0.7"/>
<circle cx="1963.9" cy="1324.9" r="1.8" fill="#3a3d40" opacity="0.85"/>
<circle cx="1981.6" cy="1299.6" r="0.7" fill="#3a3d40" opacity="0.7"/>
<circle cx="1967.3" cy="1413.6" r="1.8" fill="#3a3d40" opacity="0.7"/>
<circle cx="1931.5" cy="1432" r="1.2" fill="#3a3d40" opacity="0.55"/>
<circle cx="1975.1" cy="1350.7" r="1" fill="#3a3d40" opacity="0.55"/>
<circle cx="1938.1" cy="1444.8" r="1.8" fill="#3a3d40" opacity="0.55"/>
<circle cx="1957.5" cy="1410.1" r="1.8" fill="#3a3d40" opacity="0.85"/>
<circle cx="1964.8" cy="1341.3" r="1" fill="#3a3d40" opacity="0.55"/>
<circle cx="1922.4" cy="1334.8" r="0.7" fill="#3a3d40" opacity="0.7"/>
<circle cx="1939.3" cy="1425.5" r="0.7" fill="#3a3d40" opacity="0.85"/>
<circle cx="1976.9" cy="1326.8" r="1.2" fill="#3a3d40" opacity="0.85"/>
<circle cx="1998.6" cy="1099.4" r="0.7" fill="#3a3d40" opacity="0.7"/>
<circle cx="1969" cy="1402.9" r="1.8" fill="#3a3d40" opacity="0.7"/>
<circle cx="1990.8" cy="1231" r="1.2" fill="#3a3d40" opacity="0.7"/>
<circle cx="1939.2" cy="1388.4" r="0.7" fill="#3a3d40" opacity="0.85"/>
<circle cx="1942.3" cy="1357.6" r="1.2" fill="#3a3d40" opacity="0.55"/>
<circle cx="1993.7" cy="1175.6" r="1.8" fill="#3a3d40" opacity="0.55"/>
<circle cx="1942.5" cy="1269" r="1" fill="#3a3d40" opacity="0.55"/>
<circle cx="1953.6" cy="1223.8" r="0.9" fill="#3a3d40" opacity="0.85"/>
<circle cx="1938.7" cy="1309.1" r="1" fill="#3a3d40" opacity="0.85"/>
<circle cx="1966.9" cy="1420.6" r="1.2" fill="#3a3d40" opacity="0.55"/>
<circle cx="1987.4" cy="1209.4" r="1.2" fill="#3a3d40" opacity="0.55"/>
<circle cx="1958.2" cy="1403.1" r="1.2" fill="#3a3d40" opacity="0.55"/>
<circle cx="1980.2" cy="1299.1" r="1.2" fill="#3a3d40" opacity="0.7"/>
<circle cx="1962.2" cy="1388" r="0.7" fill="#3a3d40" opacity="0.85"/>
<circle cx="1955.9" cy="1117.4" r="0.7" fill="#3a3d40" opacity="0.7"/>
<circle cx="1984.5" cy="1260" r="0.9" fill="#3a3d40" opacity="0.7"/>
<circle cx="1953.1" cy="1228.9" r="1.8" fill="#3a3d40" opacity="0.85"/>
<circle cx="1986.5" cy="1253.4" r="0.7" fill="#3a3d40" opacity="0.55"/>
<circle cx="1965.9" cy="1192.3" r="1" fill="#3a3d40" opacity="0.85"/>
<circle cx="1879" cy="1328" r="2.4" fill="#333"/><circle cx="1978" cy="1194" r="2.8" fill="#333"/><circle cx="1961" cy="1343" r="2" fill="#333"/>
<ellipse cx="1949.7" cy="1604.5" rx="26.5" ry="91.5" transform="rotate(9.3 1949.7 1604.5)" fill="none" stroke="#ff0d0d" stroke-width="4"/>
</g>
<text class="cap" x="1617.5" y="1770" font-size="36" textLength="163" lengthAdjust="spacingAndGlyphs">Dispersed</text>
<text class="cap" x="1603.5" y="1817.9" font-size="36" textLength="191.5" lengthAdjust="spacingAndGlyphs">SBAC-MgFe</text>
<text class="cap" x="1604.5" y="1866.4" font-size="36" textLength="190.5" lengthAdjust="spacingAndGlyphs">composites</text>
<text class="cap" x="1612" y="1914.6" font-size="36" textLength="175.5" lengthAdjust="spacingAndGlyphs">in solution</text>
<text class="cap" x="1810.5" y="1775" font-size="36" textLength="353" lengthAdjust="spacingAndGlyphs">Removal of magnetic</text>
<text class="cap" x="1846.5" y="1822.5" font-size="36" textLength="280" lengthAdjust="spacingAndGlyphs">composites from</text>
<text class="cap" x="1856.5" y="1870.5" font-size="36" textLength="262.5" lengthAdjust="spacingAndGlyphs">solution using a</text>
<text class="cap" x="1923.5" y="1918.5" font-size="36" textLength="127" lengthAdjust="spacingAndGlyphs">magnet</text>
<text x="1603.5" y="992" font-size="46" textLength="55" lengthAdjust="spacingAndGlyphs">(d)</text>
</g>
</svg></body></html>
